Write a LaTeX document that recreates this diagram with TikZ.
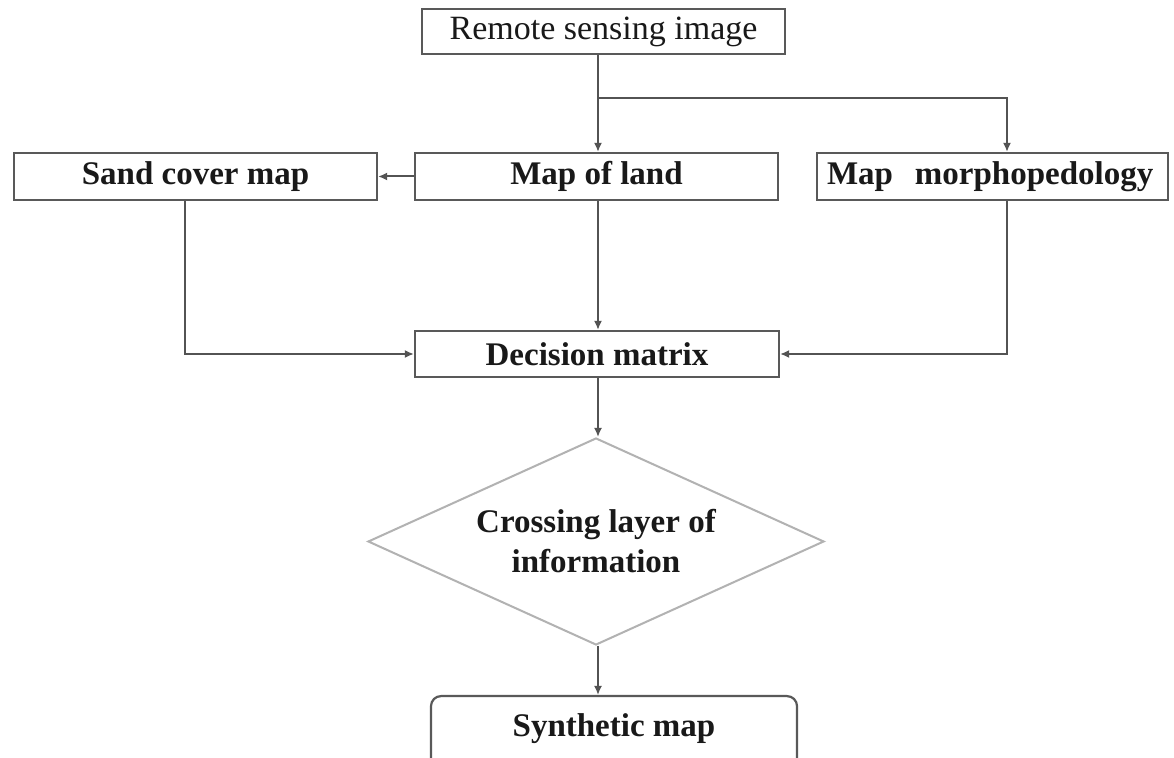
\documentclass[tikz,border=0pt]{standalone}
\usepackage{fontspec}
\setmainfont{Liberation Serif}
\usetikzlibrary{shapes.geometric,arrows.meta}
\begin{document}
\begin{tikzpicture}[x=0.5pt,y=-0.5pt,
  every node/.style={text=black!90},
  boxstyle/.style={draw=gray!70!black, line width=1.1pt, rectangle, inner sep=0pt,
    font=\bfseries\fontsize{16.5}{20}\selectfont},
  conn/.style={draw=gray!65!black, line width=1pt},
  arr/.style={conn, -{Latex[length=4.5pt,width=4pt]}}]
\useasboundingbox (0,0) rectangle (1174,758);
\fill[white] (0,0) rectangle (1174,758);

\node[boxstyle, font=\fontsize{17}{20}\selectfont, minimum width=181.5pt, minimum height=22.5pt] (remote) at (603.5,31.5) {Remote sensing image};
\node[boxstyle, minimum width=181.5pt, minimum height=23.5pt] (sand) at (195.5,176.5) {Sand cover map};
\node[boxstyle, minimum width=181.5pt, minimum height=23.5pt] (land) at (596.5,176.5) {Map of land};
\node[boxstyle, minimum width=175.5pt, minimum height=23.5pt, text width=165.5pt, align=left] (morpho) at (992.5,176.5) {Map\ \ morphopedology};
\node[boxstyle, minimum width=182pt, minimum height=23pt] (decision) at (597,354) {Decision matrix};
\node[boxstyle, diamond, aspect=2.2, draw=gray!60, line width=1pt, minimum width=228pt, minimum height=103.5pt, align=center] (cross) at (596,541.5) {Crossing layer of\\information};

\begin{scope}
\clip (0,0) rectangle (1174,758);
\node[boxstyle, rounded corners=5pt, anchor=north, minimum width=183pt, inner ysep=0pt, text height=20pt, text depth=30pt] (synth) at (614,695) {Synthetic map};
\end{scope}

\coordinate (br) at (598,98);
\draw[arr] (remote.south -| 598,0) -- (land.north -| 598,0);
\draw[arr] (br) -| ([xshift=7.25pt]morpho.north);
\draw[arr] (land.west) -- (sand.east);
\draw[arr] ([xshift=-5.25pt]sand.south) |- (decision.west);
\draw[arr] (land.south -| 598,0) -- (decision.north -| 598,0);
\draw[arr] ([xshift=7.25pt]morpho.south) |- (decision.east);
\draw[arr] (decision.south -| 598,0) -- (cross.north -| 598,0);
\draw[arr] (cross.south -| 598,0) -- (synth.north -| 598,0);
\end{tikzpicture}
\end{document}
